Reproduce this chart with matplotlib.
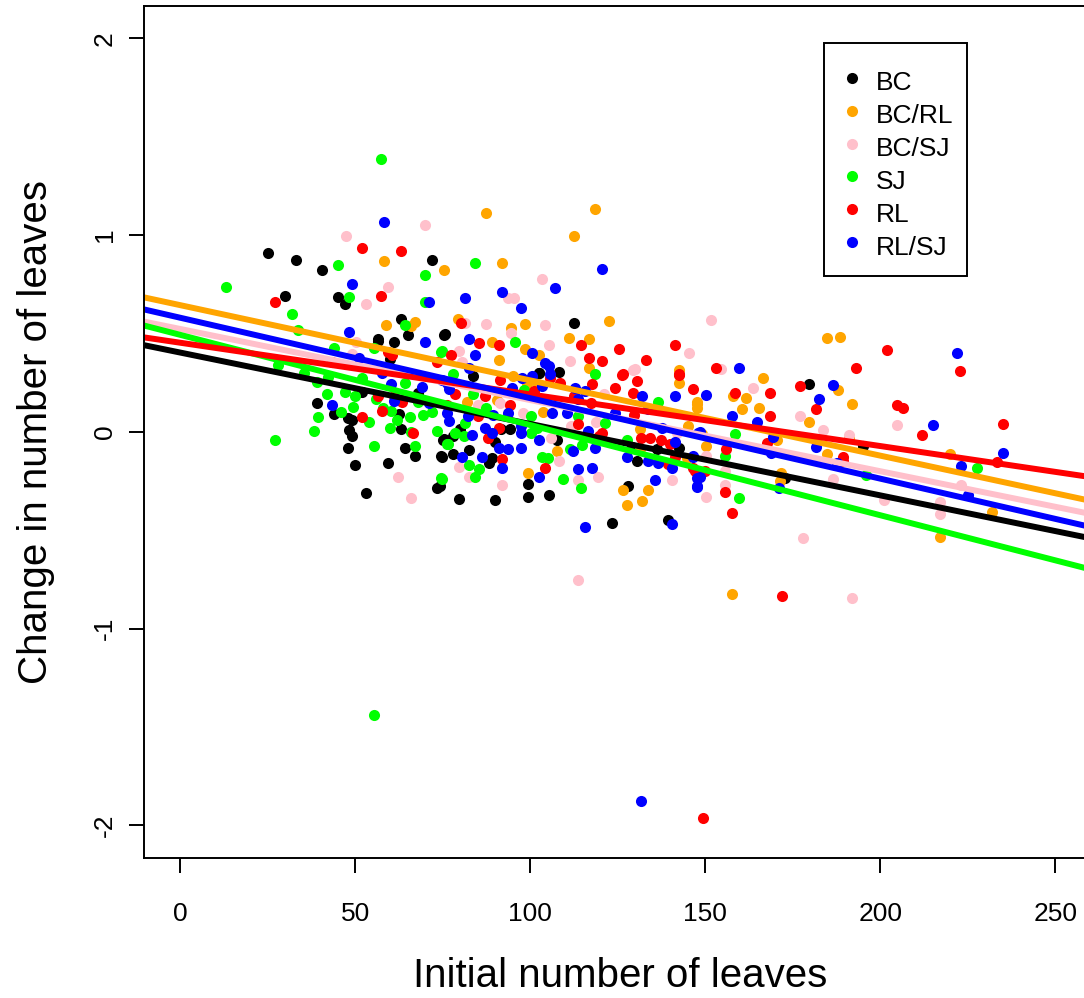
import matplotlib
matplotlib.use("Agg")
import matplotlib.pyplot as plt
from matplotlib.lines import Line2D
from matplotlib.patches import Rectangle

plt.rcParams['font.family'] = ['Liberation Sans', 'DejaVu Sans']
plt.rcParams['axes.unicode_minus'] = False

# grupos y colores (orden de la leyenda)
groups = ["BC", "BC/RL", "BC/SJ", "SJ", "RL", "RL/SJ"]
colors = ["black", "orange", "pink", "#00ff00", "red", "blue"]

# puntos: (hojas iniciales, cambio)
bc_x = [25.1, 32.9, 72, 40.4, 30, 45.1, 47.1, 63.1, 65.1, 75.4, 56.4, 56.4, 61.1, 51.8, 39.1, 44, 62.5, 48,
        49.1, 48.2, 49.1, 63.1, 75.3, 48, 64.3, 67.1, 74.5, 50, 59.3, 73.3, 52.9, 112.6, 75.5, 102.4, 108.3,
        79.5, 90, 99.4, 105.4, 99.4, 128, 123.4, 139.4, 74.2, 82.4, 74.8, 78, 88.1, 89.1, 136.1, 130.4, 129,
        75, 78, 79.9, 91.5, 94.2, 107.6, 83.7, 102.6, 142.6, 179.7, 195, 172.8, 90, 60, 68]
bc_y = [0.911, 0.875, 0.875, 0.824, 0.693, 0.687, 0.65, 0.575, 0.494, 0.494, 0.47, 0.46, 0.458, 0.204, 0.146,
        0.092, 0.092, 0.07, 0.058, 0.009, -0.022, 0.017, -0.034, -0.081, -0.081, -0.124, -0.124, -0.167,
        -0.157, -0.284, -0.31, 0.555, 0.495, 0.30, 0.304, -0.34, -0.349, -0.332, -0.323, -0.264, -0.276,
        -0.462, -0.45, -0.276, -0.093, -0.127, -0.115, -0.157, -0.132, -0.089, -0.149, -0.076, -0.039,
        -0.022, 0.012, 0.012, 0.012, -0.039, 0.283, 0.297, -0.081, 0.241, -0.073, -0.237, -0.05, 0.37, 0.2]

bcrl_x = [58.3, 75.4, 58.8, 67.1, 87.2, 118.6, 112.6, 92, 79.3, 122.6, 94.6, 98.6, 111.1, 116.7, 89.1, 98.6,
          102.4, 91.1, 116.7, 142.4, 99.4, 126.4, 133.7, 127.5, 131.8, 107.5, 131.3, 81.9, 90.5, 94.9, 98.9,
          102.3, 142.4, 103.6, 131.3, 145, 144.7, 184.7, 188.5, 166.6, 157.9, 161.6, 187.8, 192, 147.5, 147.5,
          147.5, 160.4, 165.4, 179.6, 191, 149, 170.5, 150.2, 184.7, 219.9, 171.5, 171.3, 232, 216.9, 157.7, 66]
bcrl_y = [0.87, 0.824, 0.545, 0.556, 1.114, 1.131, 0.998, 0.86, 0.575, 0.566, 0.526, 0.546, 0.478, 0.47, 0.458,
          0.419, 0.39, 0.363, 0.326, 0.314, -0.211, -0.298, -0.298, -0.374, -0.35, -0.098, -0.089, 0.153, 0.16,
          0.283, 0.241, 0.241, 0.25, 0.10, 0.012, 0.03, -0.132, 0.478, 0.483, 0.275, 0.18, 0.173, 0.212, 0.144,
          0.15, 0.14, 0.12, 0.114, 0.12, 0.05, -0.03, -0.01, -0.04, -0.073, -0.115, -0.115, -0.21, -0.25,
          -0.406, -0.535, -0.823, 0.54]

bcsj_x = [70, 47.2, 59.2, 52.9, 50.1, 49.1, 62.3, 65.9, 103.4, 93.7, 95.4, 81.4, 87.2, 104.3, 94.6, 145.4, 79.5,
          105.3, 111.3, 80.5, 129.4, 92, 119.4, 113.7, 140.6, 79.5, 82.4, 108.1, 105.8, 111.7, 85, 91.3, 121.1,
          129.9, 97.9, 118.7, 141.9, 151.6, 154.6, 163.7, 176.9, 204.7, 183.7, 190.9, 150.2, 155.6, 155.6,
          150.2, 186.6, 200.9, 222.9, 216.9, 216.9, 177.8, 191.9, 113.7]
bcsj_y = [1.053, 0.997, 0.738, 0.651, 0.458, 0.397, -0.228, -0.335, 0.775, 0.678, 0.678, 0.555, 0.546, 0.541,
          0.504, 0.399, 0.41, 0.444, 0.36, 0.354, 0.312, -0.272, -0.228, -0.247, -0.247, -0.179, -0.228, -0.149,
          -0.03, 0.03, 0.139, 0.148, 0.19, 0.32, 0.097, 0.05, -0.005, 0.571, 0.318, 0.224, 0.083, 0.033, 0.007,
          -0.018, -0.124, -0.2, -0.27, -0.33, -0.239, -0.349, -0.27, -0.357, -0.42, -0.542, -0.847, -0.752]

sj_x = [57.3, 45.1, 70, 12.9, 48.1, 70, 32, 64.3, 33.7, 44, 55.3, 74.5, 27.9, 35.4, 39, 42.1, 52, 64.3, 47.1,
        55.8, 49.4, 60.2, 39.2, 65.6, 69.4, 38.3, 26.9, 73.3, 55.4, 67.1, 76.1, 74.5, 84.3, 95.5, 74.8, 118.6,
        109.3, 114.6, 84.3, 85.3, 74.8, 82.4, 103.3, 105.1, 111.3, 114.8, 127.5, 76.4, 78.4, 80.9, 101.8,
        100.3, 78, 83.7, 87.2, 81.3, 98.3, 136.6, 100.3, 113.7, 121.3, 158.6, 155.7, 159.7, 195.8, 227.7,
        55.4, 42, 50, 58, 62, 68, 72, 54, 46, 60, 66]
sj_y = [1.385, 0.849, 0.799, 0.738, 0.687, 0.661, 0.60, 0.545, 0.519, 0.426, 0.424, 0.407, 0.339, 0.30, 0.255,
        0.278, 0.275, 0.25, 0.202, 0.165, 0.126, 0.104, 0.077, 0.077, 0.088, 0.006, -0.039, 0.006, -0.073,
        -0.073, -0.064, -0.237, 0.86, 0.458, 0.41, 0.292, -0.238, -0.288, -0.228, -0.191, -0.238, -0.166,
        -0.127, -0.132, -0.089, -0.069, -0.039, -0.064, -0.005, -0.022, 0.021, -0.005, 0.292, 0.19, 0.122,
        0.043, 0.215, 0.153, 0.08, 0.08, 0.046, -0.01, -0.124, -0.335, -0.22, -0.186, -1.44, 0.19, 0.18,
        0.12, 0.06, 0.15, 0.10, 0.05, 0.10, 0.02, 0.0]

rl_x = [52, 63.1, 26.9, 57.3, 59.4, 60.6, 43.3, 73.3, 56.4, 61.1, 63.4, 57.5, 52, 66.6, 80.3, 114.6, 125.4, 141.4,
        91.1, 85.3, 77.4, 116.7, 120.6, 132.9, 126.4, 142.4, 104.3, 119.5, 120.4, 113.7, 141.4, 139.4, 134.2,
        131.6, 137.4, 146.6, 88, 90.9, 92, 76.1, 78.4, 87, 85.1, 94.2, 91.3, 105.6, 108.5, 117.5, 101, 112.5,
        117.2, 124.2, 126.1, 130.4, 129.4, 142.6, 146.6, 129.7, 139.9, 201.8, 222.8, 152.9, 192.9, 158.5,
        168.5, 176.9, 181.6, 204.7, 206.6, 168.5, 235.1, 212, 167.5, 155.8, 189.2, 189.2, 233.3, 147, 149.8,
        155.6, 157.6, 172, 149.4]
rl_y = [0.936, 0.921, 0.66, 0.692, 0.407, 0.39, 0.353, 0.356, 0.182, 0.182, 0.151, 0.104, 0.077, -0.008, 0.555,
        0.444, 0.419, 0.444, 0.444, 0.453, 0.39, 0.373, 0.36, 0.363, 0.292, 0.292, -0.186, -0.022, -0.005,
        0.038, -0.127, -0.161, -0.03, -0.03, -0.04, -0.183, -0.03, 0.021, -0.14, 0.139, 0.19, 0.181, 0.083,
        0.139, 0.266, 0.275, 0.25, 0.241, 0.21, 0.181, 0.148, 0.224, 0.287, 0.261, 0.199, 0.287, 0.216, 0.085,
        -0.064, 0.415, 0.309, 0.326, 0.326, 0.199, 0.199, 0.232, 0.114, 0.139, 0.122, 0.083, 0.041, -0.018,
        -0.055, -0.085, -0.13, -0.15, -0.152, -0.2, -0.2, -0.306, -0.411, -0.835, -1.962]

rlsj_x = [58.3, 49.1, 71, 48.1, 70, 51.1, 57.5, 65, 60.2, 69.1, 61.1, 43.2, 71.1, 120.6, 107.1, 92, 81.4, 97.4,
          82.4, 84.3, 100.5, 104.3, 82.4, 105.3, 102.4, 113.7, 117.6, 135.7, 115.7, 140.6, 80.4, 86.3, 92, 97.3,
          93.5, 91.1, 112.3, 118.6, 116.6, 127.5, 133.7, 136.6, 140.6, 141.3, 146.6, 147.5, 147.5, 83.3, 87.1,
          89, 97.3, 97.3, 102.4, 74.8, 76.1, 76.1, 76.7, 76.7, 82.3, 89.4, 93.7, 94.7, 97.5, 100.4, 105.6,
          103.4, 112.8, 115.6, 113.7, 131.8, 141.4, 133.7, 124.2, 106.1, 110.5, 137.5, 148, 221.8, 159.6,
          150.2, 186.6, 182.6, 157.7, 164.7, 214.9, 148.5, 169.4, 181.6, 146.6, 168.8, 187.5, 235.1, 222.9,
          148.5, 147.5, 170.9, 224.9, 131.7]
rlsj_y = [1.068, 0.753, 0.661, 0.51, 0.458, 0.373, 0.30, 0.30, 0.241, 0.227, 0.156, 0.138, 0.146, 0.826, 0.729,
          0.712, 0.678, 0.632, 0.47, 0.39, 0.399, 0.351, 0.326, 0.334, -0.228, -0.191, -0.186, -0.247, -0.482,
          -0.47, -0.127, -0.127, -0.186, -0.081, -0.086, -0.081, -0.098, -0.081, 0.004, -0.127, -0.149, -0.157,
          -0.186, -0.052, -0.127, -0.233, -0.276, -0.018, 0.021, -0.005, 0.029, -0.005, -0.039, 0.266, 0.25,
          0.097, 0.054, 0.22, 0.083, 0.088, 0.097, 0.224, 0.275, 0.283, 0.292, 0.232, 0.224, 0.207, 0.165,
          0.181, 0.181, 0.114, 0.097, 0.097, 0.097, 0.021, -0.005, 0.399, 0.326, 0.187, 0.236, 0.165, 0.083,
          0.051, 0.033, -0.001, -0.027, -0.078, -0.124, -0.106, -0.157, -0.106, -0.174, -0.23, -0.28, -0.288,
          -0.323, -1.876]

xs = [bc_x, bcrl_x, bcsj_x, sj_x, rl_x, rlsj_x]
ys = [bc_y, bcrl_y, bcsj_y, sj_y, rl_y, rlsj_y]

# rectas de regresion (intercepto en x=0, pendiente)
intercepts = [0.403, 0.644, 0.523, 0.493, 0.453, 0.580]
slopes = [-0.00363, -0.003825, -0.003616, -0.004585, -0.002626, -0.00409]

W, H = 1084, 998
fig = plt.figure(figsize=(W / 100, H / 100), dpi=100)
ax = fig.add_axes([144.3 / W, 1 - 857.7 / H, (1115.9 - 144.3) / W, (857.7 - 6) / H])

for x, y, c in zip(xs, ys, colors):
    ax.plot(x, y, 'o', color=c, ms=8, mew=0, linestyle='none')

for a, b, c in zip(intercepts, slopes, colors):
    ax.axline((0, a), slope=b, color=c, lw=4.3, solid_capstyle='butt')

ax.set_xlim(-10.3, 267.3)
ax.set_ylim(-2.165, 2.165)
ax.set_xticks([0, 50, 100, 150, 200, 250])
ax.set_yticks([-2, -1, 0, 1, 2])
ax.tick_params(labelsize=19, length=10.8, width=1.4, colors='black')
ax.tick_params(axis='x', pad=21)
ax.tick_params(axis='y', pad=9)
for lab in ax.get_yticklabels():
    lab.set_rotation(90)
    lab.set_va('center')
for s in ax.spines.values():
    s.set_linewidth(1.4)

fig.text(620 / W, 1 - 986.7 / H, "Initial number of leaves", fontsize=29,
         ha='center', va='baseline')
fig.text(47 / W, 1 - 431.5 / H, "Change in number of leaves", fontsize=29,
         rotation=90, rotation_mode='anchor', ha='center', va='baseline')

# leyenda dibujada a mano
fig.add_artist(Rectangle((824.3 / W, 1 - 276 / H), (967.3 - 824.3) / W, (276 - 43.3) / H,
                         transform=fig.transFigure, fill=False, edgecolor='black', lw=1.4))
for i, (g, c) in enumerate(zip(groups, colors)):
    ry = 77.7 + 32.9 * i
    fig.add_artist(Line2D([851.7 / W], [1 - ry / H], marker='o', color=c, ms=8, mew=0,
                          transform=fig.transFigure))
    fig.text(876 / W, 1 - (ry + 12.3) / H, g, fontsize=19, ha='left', va='baseline')

fig.savefig("out.png", dpi=100)
